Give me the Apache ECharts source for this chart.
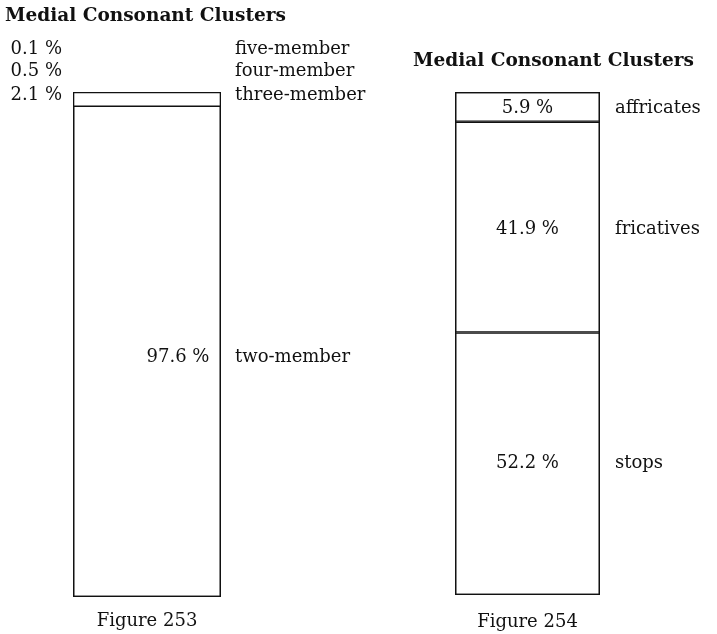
<!DOCTYPE html>
<html>
<head>
<meta charset="utf-8">
<script src="https://cdn.jsdelivr.net/npm/echarts@6/dist/echarts.min.js"></script>
<style>
  html, body { margin: 0; padding: 0; background: #fff; }
  #chart { width: 717px; height: 634px; }
</style>
</head>
<body>
<div id="chart"></div>
<script>
// data, bottom segment first
var titles = ['Medial Consonant Clusters', 'Medial Consonant Clusters'];
var figureLabels = ['Figure 253', 'Figure 254'];
var leftNames = ['two-member', 'three-member', 'four-member', 'five-member'];
var leftValues = [97.6, 2.1, 0.5, 0.1];
var rightNames = ['stops', 'fricatives', 'affricates'];
var rightValues = [52.2, 41.9, 5.9];

var SERIF = '"DejaVu Serif", serif';
var INK = '#111';
var FONT_SIZE = 18;
var MIN_BORDERED = 5; // segments thinner than this get no divider line

// label placement per segment (layout only)
var leftValueLabel = [
  {position: 'inside', offset: [31, 6]},
  {position: 'left', distance: 11, offset: [0, -5]},
  {position: 'left', distance: 11, offset: [0, -22]},
  {position: 'left', distance: 11, offset: [0, -43]}
];
var leftNameOffset = [6, -5, -22, -43];
var rightValueLabel = [
  {position: 'inside', offset: [0, 0]},
  {position: 'inside', offset: [0, 2]},
  {position: 'inside', offset: [0, 1]}
];
var rightNameOffset = [0, 2, 1];

function sum(arr){
  return arr.reduce(function(a, b){ return a + b }, 0)
}

function buildSeries(idx, names, values, valueLabels, nameOffsets, nameDistance){
  var out = [];
  // outer frame of the whole column
  out.push({
    type: 'bar',
    name: 'frame' + idx,
    xAxisIndex: idx,
    yAxisIndex: idx,
    stack: 'frame' + idx,
    barWidth: '100%',
    barGap: '-100%',
    data: [sum(values)],
    itemStyle: {color: '#fff', borderColor: INK, borderWidth: 1.3},
    silent: true,
    z: 1
  });
  // stacked segments with the percentage
  names.forEach(function(name, i){
    var bordered = values[i] >= MIN_BORDERED;
    out.push({
      type: 'bar',
      name: name,
      xAxisIndex: idx,
      yAxisIndex: idx,
      stack: 'box' + idx,
      barWidth: '100%',
      barGap: '-100%',
      data: [values[i]],
      itemStyle: {
        color: 'transparent',
        borderColor: bordered ? INK : 'transparent',
        borderWidth: bordered ? 1.3 : 0
      },
      label: Object.assign({
        show: true,
        color: INK,
        fontFamily: SERIF,
        fontSize: FONT_SIZE,
        formatter: function(p){ return p.value + ' %' }
      }, valueLabels[i]),
      silent: true,
      z: 2
    });
  });
  // transparent twin stack carrying the names to the right
  names.forEach(function(name, i){
    out.push({
      type: 'bar',
      name: name + ' (name)',
      xAxisIndex: idx,
      yAxisIndex: idx,
      stack: 'names' + idx,
      barWidth: '100%',
      barGap: '-100%',
      data: [values[i]],
      itemStyle: {color: 'transparent', borderWidth: 0},
      label: {
        show: true,
        position: 'right',
        distance: nameDistance,
        offset: [0, nameOffsets[i]],
        color: INK,
        fontFamily: SERIF,
        fontSize: FONT_SIZE,
        formatter: name
      },
      silent: true,
      z: 2
    });
  });
  return out
}

var chart = echarts.init(document.getElementById('chart'));

function axisPair(idx, label, max, margin){
  return {
    x: {
      type: 'category',
      gridIndex: idx,
      data: [label],
      axisLine: {show: false},
      axisTick: {show: false},
      axisLabel: {color: INK, fontFamily: SERIF, fontSize: FONT_SIZE, margin: margin}
    },
    y: {type: 'value', gridIndex: idx, min: 0, max: max, show: false}
  }
}

var a0 = axisPair(0, figureLabels[0], sum(leftValues), 15);
var a1 = axisPair(1, figureLabels[1], sum(rightValues), 18);

var titleStyle = {color: INK, fontFamily: SERIF, fontWeight: 'bold', fontSize: 18.5};

var option = {
  backgroundColor: '#fff',
  animation: false,
  title: [
    {text: titles[0], left: 5, top: 7, padding: 0, textStyle: titleStyle},
    {text: titles[1], left: 413, top: 52, padding: 0, textStyle: titleStyle}
  ],
  grid: [
    {left: 73, top: 92, width: 148, height: 505, containLabel: false},
    {left: 455, top: 92, width: 145, height: 503, containLabel: false}
  ],
  xAxis: [a0.x, a1.x],
  yAxis: [a0.y, a1.y],
  series: buildSeries(0, leftNames, leftValues, leftValueLabel, leftNameOffset, 14)
    .concat(buildSeries(1, rightNames, rightValues, rightValueLabel, rightNameOffset, 15))
};

chart.setOption(option);
</script>
</body>
</html>
